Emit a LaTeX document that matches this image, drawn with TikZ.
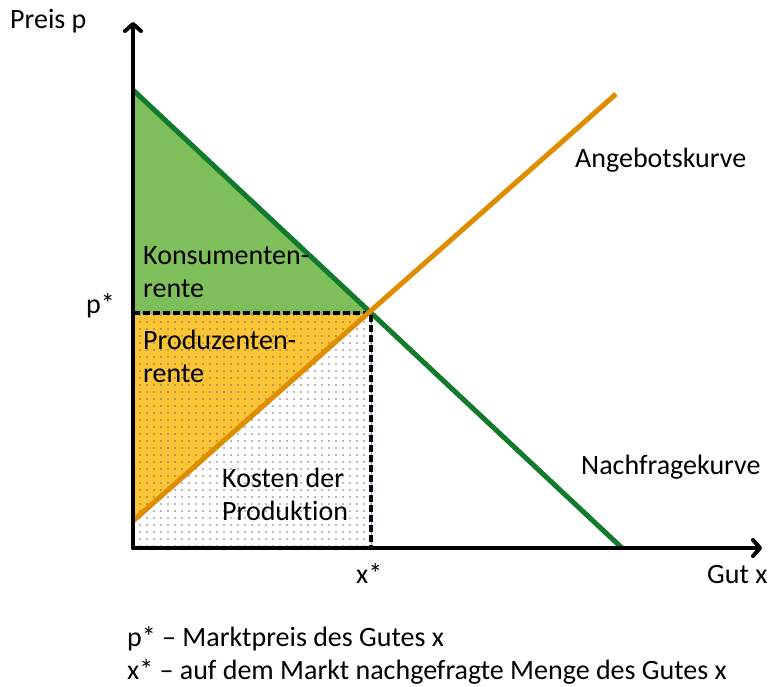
\documentclass[tikz,border=0pt]{standalone}
\usepackage{fontspec}
\setmainfont{Carlito}[Ligatures=NoCommon]
\usetikzlibrary{arrows.meta,patterns.meta}
\definecolor{nfgreen}{RGB}{18,122,44}
\definecolor{ksgreen}{RGB}{126,191,92}
\definecolor{aborange}{RGB}{222,140,0}
\definecolor{psyellow}{RGB}{250,196,52}
\definecolor{randblau}{RGB}{110,160,210}
\tikzset{
  lbl/.style={font=\fontsize{28}{33}\selectfont, inner sep=0pt, anchor=base west, align=left},
  achse/.style={line width=4pt, line cap=round, line join=round,
    -{Straight Barb[length=7pt,width=16pt,line cap=round,line join=round]}},
  kurve/.style={line width=5pt},
  hilfslinie/.style={line width=3.5pt, dash pattern=on 7pt off 3pt},
}
\begin{document}
\begin{tikzpicture}[x=1pt,y=-1pt]
      \useasboundingbox (0,0) rectangle (768,686);
      \coordinate (O) at (133,548);
      \coordinate (E) at (371,313);
      \coordinate (P) at (133,313);
      \coordinate (X) at (371,548);
      \coordinate (N0) at (133,90);
      \coordinate (N1) at (622,548);
      \coordinate (A0) at (133,521);
      \coordinate (A1) at (616,94);
      \coordinate (xend) at (762,548);
      \coordinate (yend) at (133,22);
      % Flaechen
      \fill[ksgreen] (N0) -- (E) -- (P) -- cycle;
      \fill[psyellow] (P) -- (E) -- (A0) -- cycle;
      \fill[pattern={Dots[distance=7pt,radius=0.9pt]}, pattern color=black!55] (P) rectangle (X);
      \draw[randblau, line width=1pt] (P) rectangle (X);
      % Kurven
      \draw[kurve, nfgreen] (N0) -- (N1);
      \draw[hilfslinie] (P) -- (E) -- (X);
      \draw[kurve, aborange] (A0) -- (A1);
      % Achsen
      \draw[achse] (O) -- (yend);
      \draw[achse] (O) -- (xend);
      % Beschriftung
      \node[lbl] (preis) at (10,28) {Preis p};
      \node[lbl] (gut) at (707,583) {Gut x};
      \node[lbl] (pstern) at (86,313) {p*};
      \node[lbl] (xstern) at (356,583) {x*};
      \node[lbl] (angebot) at (575,167) {Angebotskurve};
      \node[lbl] (nachfrage) at (581,474) {Nachfragekurve};
      \node[lbl] (konsument) at (143,297) {Konsumenten-\\rente};
      \node[lbl] (produzent) at (143,382) {Produzenten-\\rente};
      \node[lbl] (kosten) at (222,520) {Kosten der\\Produktion};
      \node[lbl] (legende) at (127,679) {p* -- Marktpreis des Gutes x\\x* -- auf dem Markt nachgefragte Menge des Gutes x};
\end{tikzpicture}
\end{document}
